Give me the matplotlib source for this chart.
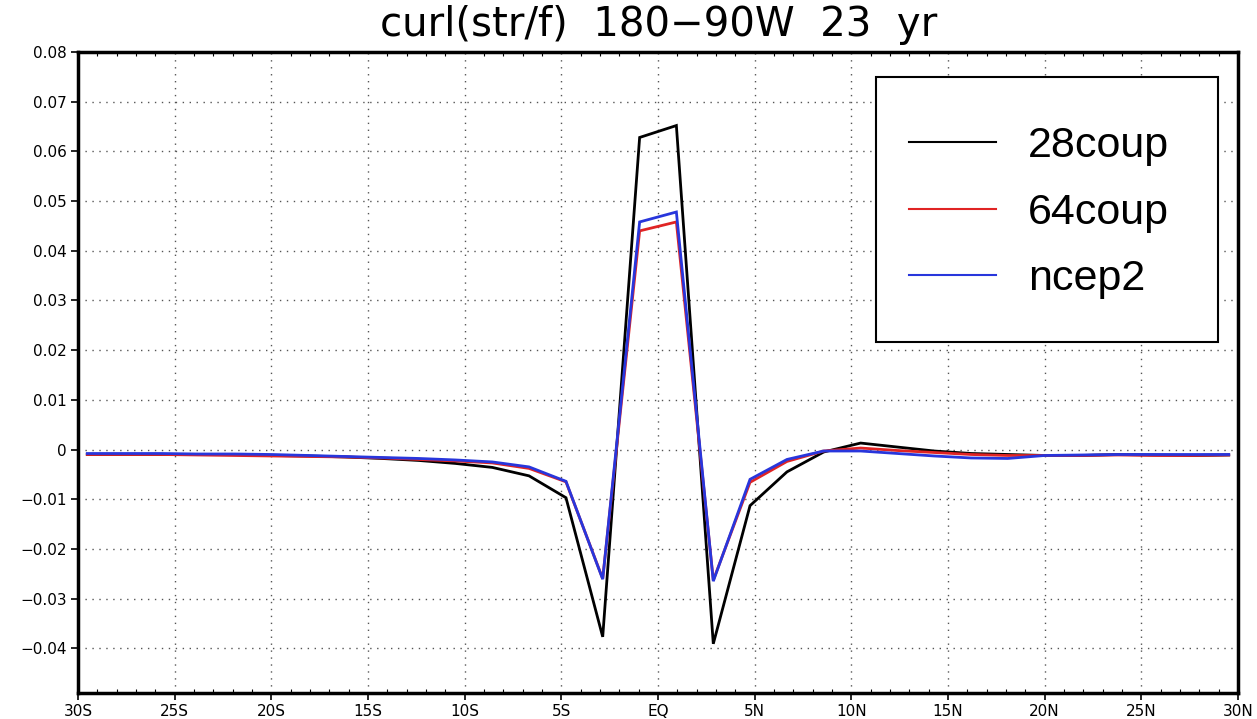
import matplotlib
matplotlib.use("Agg")
import matplotlib.pyplot as plt
from matplotlib.ticker import FixedLocator, MultipleLocator
from matplotlib.patches import Rectangle

# Latitudes (T62 Gaussian grid, S negative)
lats = [-29.52, -27.62, -25.71, -23.81, -21.90, -20.00, -18.09, -16.19,
        -14.29, -12.38, -10.48, -8.57, -6.67, -4.76, -2.86, -0.95,
        0.95, 2.86, 4.76, 6.67, 8.57, 10.48, 12.38, 14.29,
        16.19, 18.09, 20.00, 21.90, 23.81, 25.71, 27.62, 29.52]

coup28 = [-1.0, -1.0, -1.0, -1.0, -1.0, -1.2, -1.3, -1.5,
          -1.8, -2.2, -2.8, -3.6, -5.3, -9.7, -37.7, 62.8,
          65.2, -39.1, -11.3, -4.5, -0.5, 1.3, 0.5, -0.3,
          -0.8, -1.0, -1.2, -1.2, -1.0, -1.1, -1.2, -1.1]

coup64 = [-1.0, -1.0, -1.0, -1.1, -1.2, -1.3, -1.4, -1.5,
          -1.7, -2.0, -2.3, -2.7, -3.8, -6.5, -26.0, 44.0,
          45.8, -26.3, -6.6, -2.4, -0.3, 0.3, -0.2, -0.6,
          -1.0, -1.2, -1.2, -1.2, -1.1, -1.2, -1.2, -1.1]

ncep2 = [-0.8, -0.8, -0.8, -0.9, -0.9, -1.0, -1.2, -1.4,
         -1.6, -1.8, -2.1, -2.5, -3.5, -6.4, -26.1, 45.8,
         47.8, -26.5, -6.0, -2.0, -0.3, -0.3, -0.8, -1.3,
         -1.7, -1.8, -1.2, -1.1, -1.0, -1.0, -1.0, -1.0]

series_names = ["28coup", "64coup", "ncep2"]
series_colors = ["black", "#e02424", "#2836dc"]

xticks = [-30, -25, -20, -15, -10, -5, 0, 5, 10, 15, 20, 25, 30]
xticklabels = ["30S", "25S", "20S", "15S", "10S", "5S", "EQ",
               "5N", "10N", "15N", "20N", "25N", "30N"]
yticks = [-0.04, -0.03, -0.02, -0.01, 0, 0.01, 0.02, 0.03, 0.04,
          0.05, 0.06, 0.07, 0.08]
yticklabels = ["\u22120.04", "\u22120.03", "\u22120.02", "\u22120.01", "0",
               "0.01", "0.02", "0.03", "0.04", "0.05", "0.06", "0.07", "0.08"]

title = "curl(str/f)  180\u221290W  23  yr"

W, H = 1257, 719
fig = plt.figure(figsize=(W/100, H/100), dpi=100)
ax = fig.add_axes([78/W, 1-693/H, (1238-78)/W, (693-52)/H])

for vals, name, col in zip([coup28, coup64, ncep2], series_names, series_colors):
    ax.plot(lats, [v/1000.0 for v in vals], color=col, lw=2.0, label=name,
            solid_joinstyle="miter")

ax.set_xlim(-30, 30)
ax.set_ylim(-0.049, 0.08)
ax.xaxis.set_major_locator(FixedLocator(xticks))
ax.set_xticklabels(xticklabels, fontsize=11, family="DejaVu Sans")
ax.yaxis.set_major_locator(FixedLocator(yticks))
ax.set_yticklabels(yticklabels, fontsize=11, family="DejaVu Sans")
ax.xaxis.set_minor_locator(MultipleLocator(1))
ax.tick_params(axis="both", which="major", direction="out", length=5, width=1.2, pad=3)
ax.tick_params(axis="x", which="minor", direction="in", length=3, width=0.8, top=True, bottom=True)

ax.grid(True, which="major", color="#555555", linestyle=(0, (1, 4)), lw=1.0)
for sp in ax.spines.values():
    sp.set_linewidth(2.5)

fig.text(659/W, 1-25/H, title, ha="center", va="center",
         fontsize=29, family="DejaVu Sans")

# legend box
fig.add_artist(Rectangle((876/W, 1-342/H), (1218-876)/W, (342-77)/H,
                         transform=fig.transFigure, facecolor="white",
                         edgecolor="black", lw=1.5, zorder=2))
handles, labels = ax.get_legend_handles_labels()
leg = fig.legend(handles, labels, loc="upper left",
                 bbox_to_anchor=(909/W, 1-126/H),
                 prop={"family": "Liberation Sans", "size": 31},
                 frameon=False, handlelength=2.02, handletextpad=0.75,
                 borderpad=0, labelspacing=0.62, borderaxespad=0)
leg.set_zorder(3)
for line in leg.get_lines():
    line.set_linewidth(1.5)

fig.savefig("out.png", dpi=100)
